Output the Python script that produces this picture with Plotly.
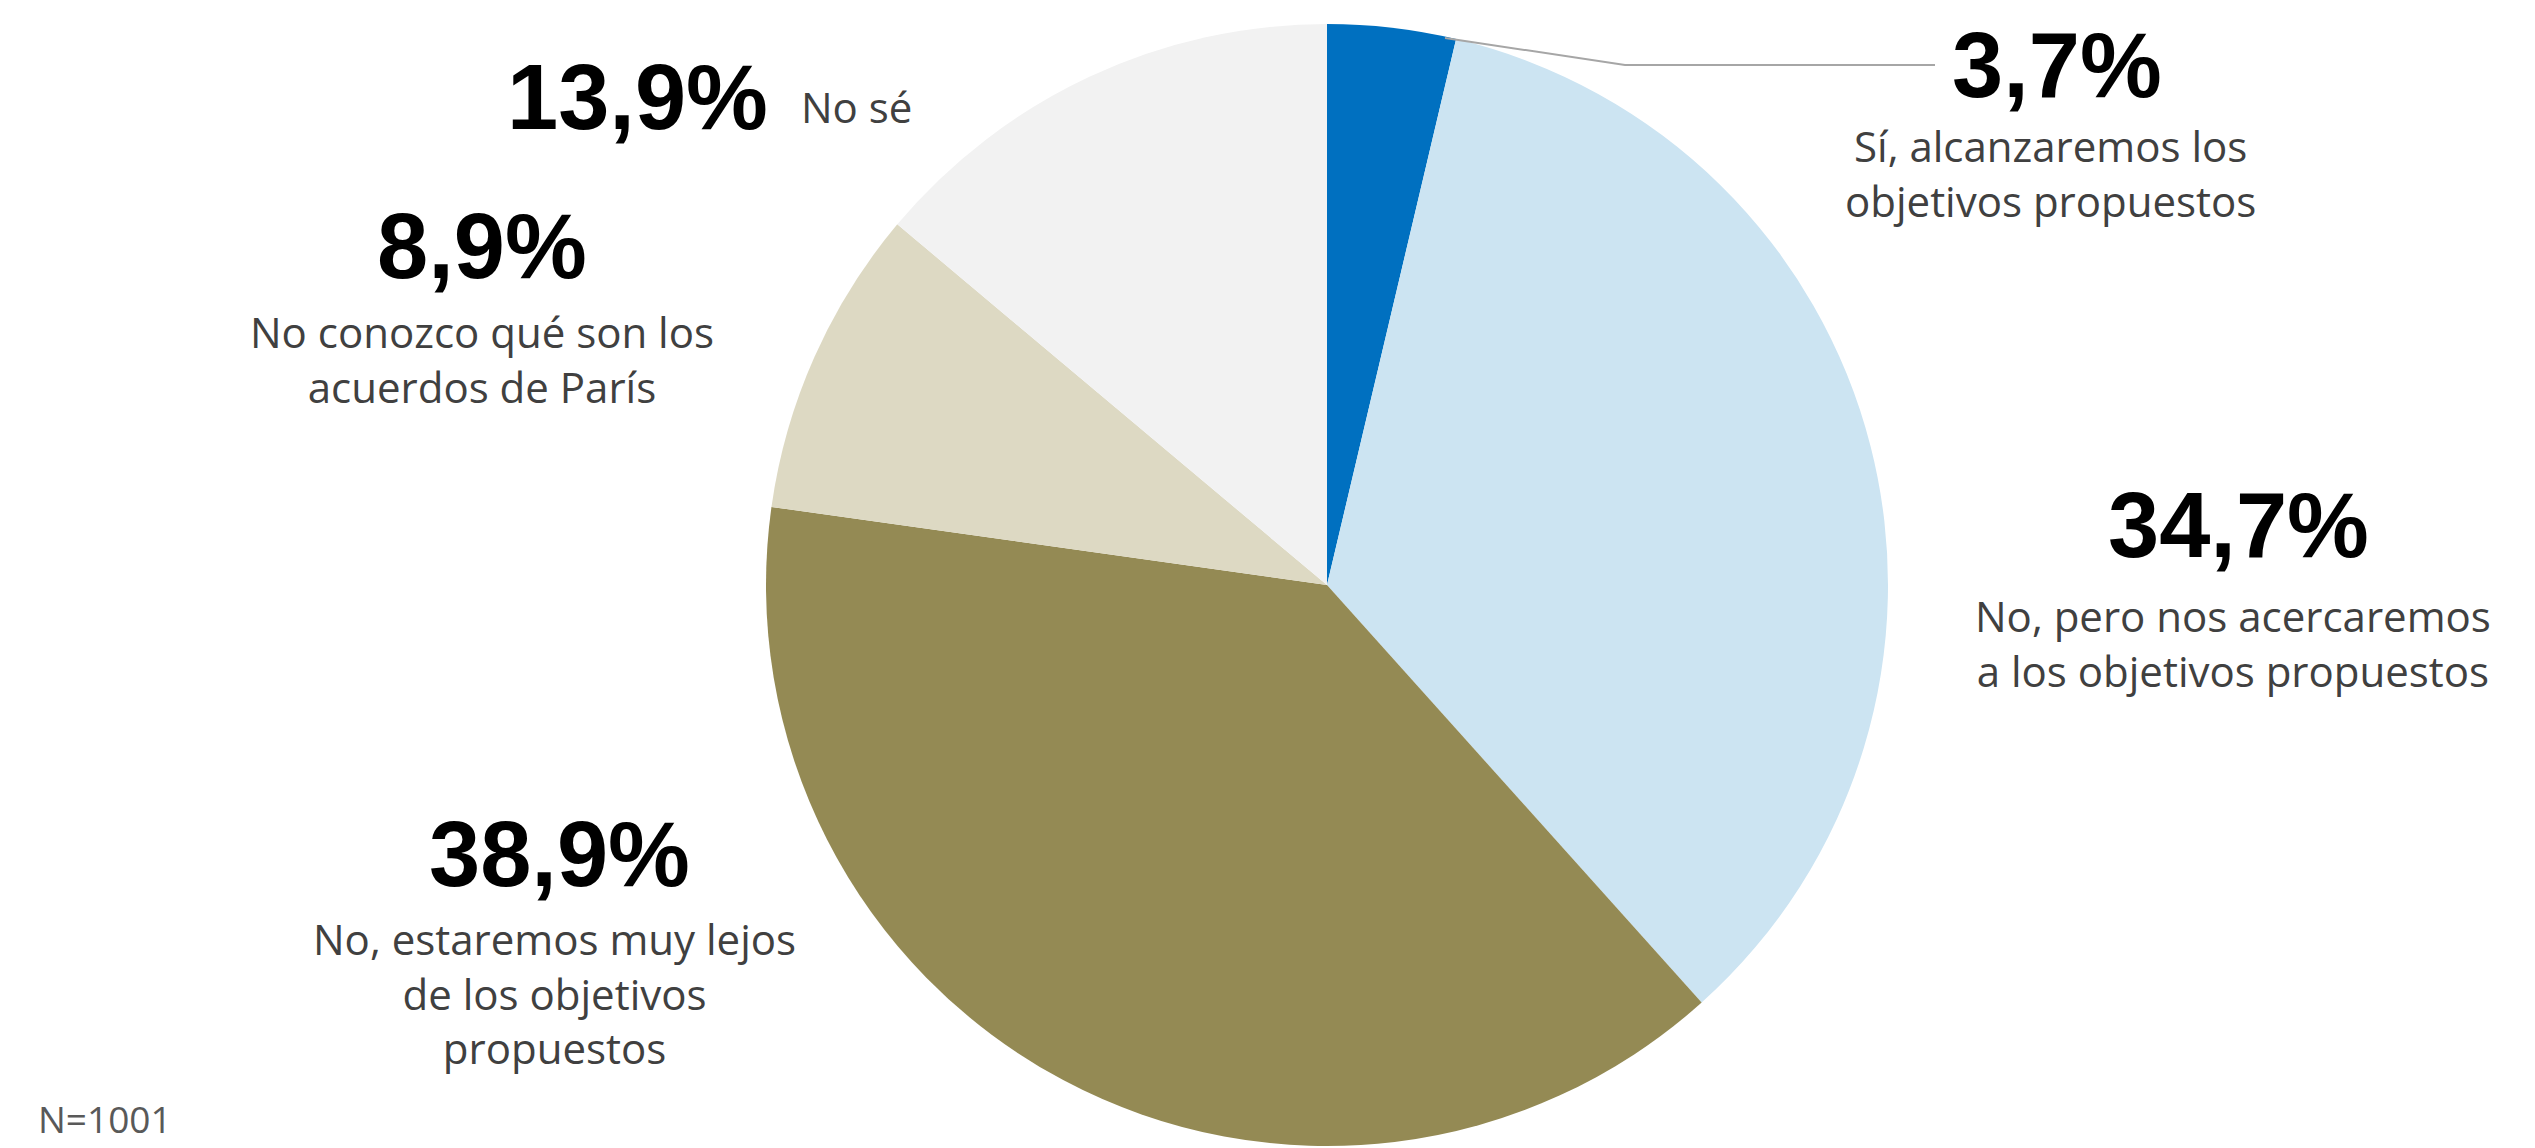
import plotly.graph_objects as go

W, H = 2535, 1148

categories = [
    "Sí, alcanzaremos los objetivos propuestos",
    "No, pero nos acercaremos a los objetivos propuestos",
    "No, estaremos muy lejos de los objetivos propuestos",
    "No conozco qué son los acuerdos de París",
    "No sé",
]
values = [3.7, 34.7, 38.9, 8.9, 13.9]
colors = ["#0070C0", "#CCE4F2", "#948A54", "#DDD9C3", "#F2F2F2"]
pct_labels = ["3,7%", "34,7%", "38,9%", "8,9%", "13,9%"]
desc_labels = [
    "Sí, alcanzaremos los<br>objetivos propuestos",
    "No, pero nos acercaremos<br>a los objetivos propuestos",
    "No, estaremos muy lejos<br>de los objetivos<br>propuestos",
    "No conozco qué son los<br>acuerdos de París",
    "No sé",
]

# label placement (pixel positions in the page) and anchors
pct_pos = [(2057, 65), (2238, 525), (559, 854), (482, 246), (770, 97)]
pct_anchor = ["center", "center", "center", "center", "right"]
desc_pos = [(2050, 173), (2233, 643), (554, 993), (482, 359), (799, 107)]
desc_anchor = ["center", "center", "center", "center", "left"]

cx, cy, r = 1327, 585, 561

fig = go.Figure(go.Pie(
    labels=categories,
    values=values,
    sort=False,
    direction="clockwise",
    rotation=0,
    marker=dict(colors=colors, line=dict(width=0)),
    textinfo="none",
    hoverinfo="label+percent",
    showlegend=False,
    domain=dict(x=[(cx - r) / W, (cx + r) / W], y=[1 - (cy + r) / H, 1 - (cy - r) / H]),
))

pct_font = dict(family="Liberation Sans Narrow, Liberation Sans, Arial, sans-serif",
                size=92, color="#000000")
desc_font = dict(family="Open Sans, Noto Sans, sans-serif", size=42, color="#404040")

ann = []
for t, (x, y), a in zip(pct_labels, pct_pos, pct_anchor):
    ann.append(dict(text="<b>" + t + "</b>", x=x / W, y=1 - y / H, xref="paper", yref="paper",
                    showarrow=False, xanchor=a, yanchor="middle", font=pct_font))
for t, (x, y), a in zip(desc_labels, desc_pos, desc_anchor):
    ann.append(dict(text=t, x=x / W, y=1 - y / H, xref="paper", yref="paper",
                    showarrow=False, xanchor=a, yanchor="middle", align="center",
                    font=desc_font))
ann.append(dict(text="N=1001", x=36 / W, y=1 - 1118 / H, xref="paper", yref="paper",
                showarrow=False, xanchor="left", yanchor="middle",
                font=dict(family="Open Sans, Noto Sans, sans-serif", size=37, color="#595959")))

leader = [(1445, 38), (1625, 65), (1935, 65)]
path = "M " + " L ".join(f"{x / W},{1 - y / H}" for x, y in leader)
fig.update_layout(
    width=W, height=H,
    margin=dict(l=0, r=0, t=0, b=0),
    paper_bgcolor="white", plot_bgcolor="white",
    annotations=ann,
    shapes=[dict(type="path", path=path, xref="paper", yref="paper",
                 line=dict(color="#A6A6A6", width=2))],
)

fig.write_html("out.html")
